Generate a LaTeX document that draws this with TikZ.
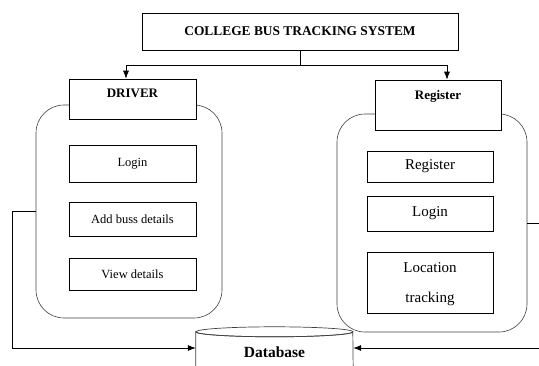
\documentclass[tikz,border=0pt]{standalone}
\usepackage{fontspec}
\setmainfont{Liberation Serif}
\usetikzlibrary{arrows.meta}

\begin{document}
\begin{tikzpicture}[x=1pt, y=-1pt,
		box/.style={draw, line width=0.7pt, fill=white, inner sep=0pt, minimum width=127pt},
		head/.style={box, font=\fontsize{13}{15}\selectfont\bfseries, text height=9pt},
		item/.style={box, font=\fontsize{12.5}{15}\selectfont},
		itemr/.style={box, font=\fontsize{15}{30}\selectfont, minimum width=126pt, align=center},
		group/.style={draw=black!75, line width=0.6pt, rounded corners=28pt, inner sep=0pt},
		wire/.style={line width=0.7pt},
		arr/.style={wire, -{Latex[length=8pt,width=6pt]}}]
				\useasboundingbox (0,0) rectangle (539,365);
				\clip (0,0) rectangle (539,365);
				
				\node (1) [box, minimum width=316pt, minimum height=37pt, font=\fontsize{13.4}{15}\selectfont\bfseries] at (300,31.5) {COLLEGE BUS TRACKING SYSTEM};
				
				\node (4) [group, minimum width=186pt, minimum height=213pt] at (129,211.5) {};
				\node (8) [group, minimum width=190pt, minimum height=218pt] at (432,223) {};
				
				\node (2) [head, minimum height=40pt, text depth=11.4pt] at (132.5,99) {DRIVER};
				\node (3) [head, minimum width=126pt, minimum height=50pt, text depth=20.4pt] at (438,105) {Register};
				
				\node (5) [item, minimum height=37pt] at (132.5,163.5) {Login};
				\node (6) [item, minimum height=34pt] at (132.5,219) {Add buss details};
				\node (7) [item, minimum height=32pt] at (132.5,274) {View details};
				
				\node (9) [itemr, minimum height=31pt] at (430,166.5) {Register};
				\node (10) [itemr, minimum height=35pt] at (430,213.5) {Login};
				\node (11) [itemr, minimum height=61pt, text depth=0pt] at (430,282.5) {Location\\tracking};
				
				\node (12) [inner sep=0pt, minimum width=157pt, minimum height=42pt, text height=18pt, text depth=0pt, font=\fontsize{15.5}{18}\selectfont\bfseries] at (274.5,348) {Database};
				\draw[wire, draw=black!75] (12.south west) -- ([yshift=-5pt]12.north west) arc[start angle=180, end angle=360, x radius=78.5pt, y radius=5pt] -- (12.south east);
				\draw[wire, draw=black!75] ([yshift=-5pt]12.north) ellipse [x radius=78.5pt, y radius=5pt];
				
				\draw[wire] (1.south) -- ++(0,15) coordinate (13);
				\draw[arr] (13) -| ([xshift=-6.5pt]2.north);
				\draw[arr] (13) -| ([xshift=9pt]3.north);
				\draw[arr] (4.west) -- ++(-23,0) |- (12.west);
				\draw[arr] (8.east) -- ++(20,0) |- (12.east);
			\end{tikzpicture}
\end{document}
